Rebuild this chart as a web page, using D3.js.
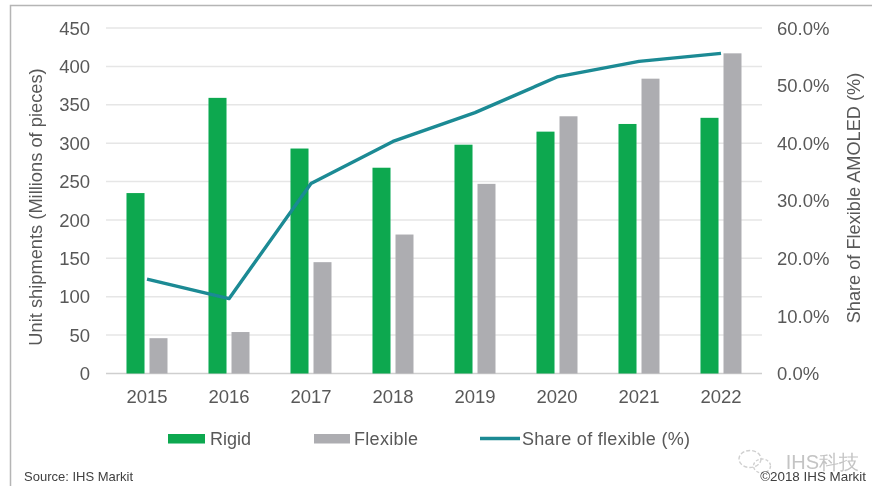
<!DOCTYPE html>
<html><head><meta charset="utf-8">
<script src="https://cdn.jsdelivr.net/npm/d3@7"></script>
<style>
html,body{margin:0;padding:0;background:#fff;}
svg{display:block;}
text{font-family:"Liberation Sans",Arial,sans-serif;}
</style></head><body>
<svg id="c" width="872" height="486"></svg>
<script>
const years = ["2015","2016","2017","2018","2019","2020","2021","2022"];
const rigid = [235,359,293,268,298,315,325,333];
const flexible = [46,54,145,181,247,335,384,417];
const share = [16.4,13.0,33.0,40.3,45.3,51.5,54.2,55.6];
const leftTicks = [0,50,100,150,200,250,300,350,400,450];
const rightTicks = [0,10,20,30,40,50,60];
const colors = {rigid:"#0aa84f",flexible:"#adadb1",share:"#1a8a94",text:"#595959",grid:"#e6e6e6"};

const svg = d3.select("#c");
svg.append("rect").attr("width",872).attr("height",486).attr("fill","#fff");
svg.append("path").attr("d","M10.5,486V5.5H872").attr("fill","none").attr("stroke","#b5b5b5").attr("stroke-width",1.5);

const x = d3.scaleBand().domain(years).range([106,762]);
const yL = d3.scaleLinear().domain([0,450]).range([373.5,28]);
const yR = d3.scaleLinear().domain([0,60]).range([373.5,28]);
const barW = 18, gap = 5;
const cx = d => x(d)+x.bandwidth()/2;

const blur = svg.append("defs").append("filter").attr("id","soft")
  .attr("x","-5%").attr("y","-5%").attr("width","110%").attr("height","110%");
blur.append("feGaussianBlur").attr("stdDeviation",0.55);
const root = svg.append("g").attr("filter","url(#soft)");

root.append("g").selectAll("line").data(leftTicks).join("line")
  .attr("x1",106).attr("x2",762).attr("y1",d=>yL(d)).attr("y2",d=>yL(d))
  .attr("stroke",d=>d===0?"#cfcfcf":colors.grid).attr("stroke-width",1.5);

root.append("g").selectAll("rect").data(years).join("rect")
  .attr("x",d=>cx(d)-gap/2-barW).attr("width",barW)
  .attr("y",(d,i)=>yL(rigid[i])).attr("height",(d,i)=>yL(0)-yL(rigid[i]))
  .attr("fill",colors.rigid);
root.append("g").selectAll("rect").data(years).join("rect")
  .attr("x",d=>cx(d)+gap/2).attr("width",barW)
  .attr("y",(d,i)=>yL(flexible[i])).attr("height",(d,i)=>yL(0)-yL(flexible[i]))
  .attr("fill",colors.flexible);

root.append("path").datum(years)
  .attr("d",d3.line().x(d=>cx(d)).y((d,i)=>yR(share[i])))
  .attr("fill","none").attr("stroke",colors.share).attr("stroke-width",3.4).attr("stroke-linejoin","round");

const axisText = g => g.attr("fill",colors.text).attr("font-size",18.5);
root.append("g").call(axisText).attr("text-anchor","end").selectAll("text").data(leftTicks).join("text")
  .attr("x",90).attr("y",d=>yL(d)).attr("dy","0.36em").text(d=>d);
root.append("g").call(axisText).attr("text-anchor","start").selectAll("text").data(rightTicks).join("text")
  .attr("x",777).attr("y",d=>yR(d)).attr("dy","0.36em").text(d=>d3.format(".1f")(d)+"%");
root.append("g").call(axisText).attr("text-anchor","middle").selectAll("text").data(years).join("text")
  .attr("x",d=>cx(d)).attr("y",396).attr("dy","0.36em").text(d=>d);

root.append("text").attr("transform","translate(42,207) rotate(-90)")
  .attr("text-anchor","middle").attr("fill",colors.text).attr("font-size",18.3).text("Unit shipments (Millions of pieces)");
root.append("text").attr("transform","translate(860,198) rotate(-90)")
  .attr("text-anchor","middle").attr("fill",colors.text).attr("font-size",18.2).text("Share of Flexible AMOLED (%)");

const lg = root.append("g").attr("fill",colors.text).attr("font-size",18);
lg.append("rect").attr("x",168).attr("y",434).attr("width",37).attr("height",9.5).attr("fill",colors.rigid);
lg.append("text").attr("x",210).attr("y",438.5).attr("dy","0.36em").text("Rigid");
lg.append("rect").attr("x",314).attr("y",434).attr("width",36).attr("height",9.5).attr("fill",colors.flexible);
lg.append("text").attr("x",354).attr("y",438.5).attr("dy","0.36em").attr("letter-spacing",0.3).text("Flexible");
lg.append("line").attr("x1",480).attr("x2",520).attr("y1",438.5).attr("y2",438.5).attr("stroke",colors.share).attr("stroke-width",3.4);
lg.append("text").attr("x",522).attr("y",438.5).attr("dy","0.36em").attr("letter-spacing",0.3).text("Share of flexible (%)");

// watermark (sits under the copyright line)
const wm = root.append("g").attr("fill","none").attr("stroke","#d0d0d0").attr("stroke-width",1.4);
wm.append("ellipse").attr("cx",750).attr("cy",459).attr("rx",11).attr("ry",8.5).attr("stroke-dasharray","4 2");
wm.append("ellipse").attr("cx",762).attr("cy",466).attr("rx",8.5).attr("ry",7).attr("stroke-dasharray","3 2");
root.append("text").attr("x",859).attr("y",469).attr("text-anchor","end").attr("font-size",20)
  .attr("fill","#c4c4c4").attr("font-family","'Noto Sans CJK SC',sans-serif").text("IHS科技");

root.append("text").attr("x",24).attr("y",481).attr("font-size",13).attr("fill","#404040").text("Source: IHS Markit");
root.append("text").attr("x",866).attr("y",481).attr("text-anchor","end").attr("font-size",13.4).attr("fill","#404040").text("©2018 IHS Markit");
</script>
</body></html>
